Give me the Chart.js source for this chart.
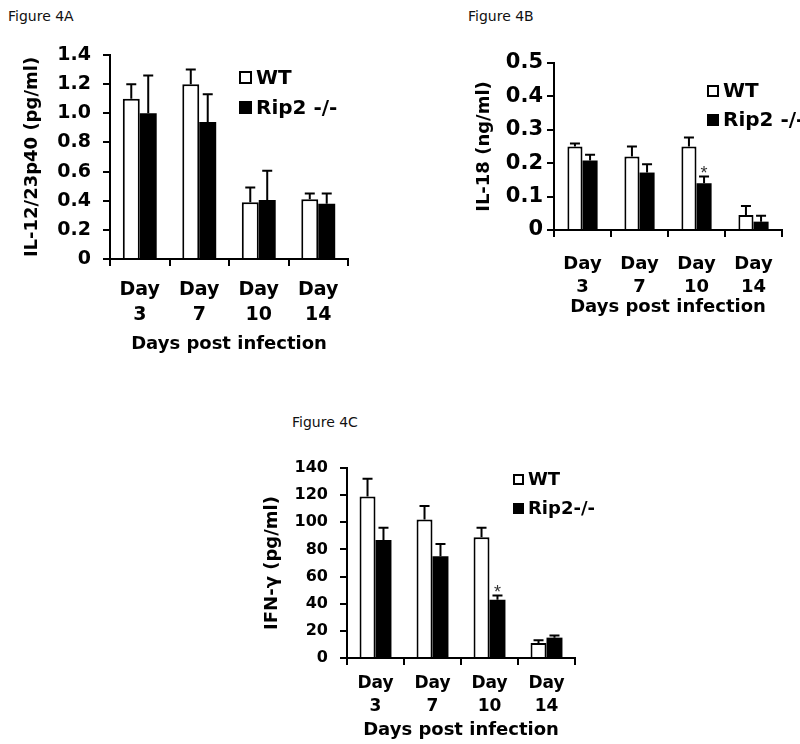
<!DOCTYPE html>
<html>
<head>
<meta charset="utf-8">
<script src="https://cdn.jsdelivr.net/npm/chart.js@4.4.0/dist/chart.umd.min.js"></script>
<style>
    body { margin: 0; background: #fff; }
    #page { position: relative; width: 800px; height: 744px; overflow: hidden; background: #fff; }
    .fig-label { position: absolute; font-family: "DejaVu Sans", sans-serif; font-size: 14px; color: #111; }
    canvas { position: absolute; }
</style>
</head>
<body>
<div id="page">
    <div class="fig-label" style="left:8px; top:8px;">Figure 4A</div>
    <div class="fig-label" style="left:468px; top:8px;">Figure 4B</div>
    <div class="fig-label" style="left:292px; top:414px;">Figure 4C</div>
    <canvas id="chartA" width="400" height="370" style="left:0; top:0;"></canvas>
    <canvas id="chartB" width="400" height="320" style="left:400px; top:0;"></canvas>
    <canvas id="chartC" width="370" height="344" style="left:230px; top:400px;"></canvas>
</div>
<script>
// ========================================
// Data
// ========================================
const days = [['Day', '3'], ['Day', '7'], ['Day', '10'], ['Day', '14']];
const seriesNames = ['WT', 'Rip2 -/-'];
const seriesNamesC = ['WT', 'Rip2-/-'];

// Figure 4A - IL-12/23p40 (pg/ml)
const il12Wt = [1.1, 1.2, 0.39, 0.41];
const il12WtErr = [0.1, 0.1, 0.1, 0.04];
const il12Rip = [1.0, 0.94, 0.405, 0.38];
const il12RipErr = [0.26, 0.19, 0.2, 0.07];
const il12Ticks = { min: 0, max: 1.4, step: 0.2 };

// Figure 4B - IL-18 (ng/ml)
const il18Wt = [0.25, 0.22, 0.25, 0.045];
const il18WtErr = [0.009, 0.03, 0.027, 0.027];
const il18Rip = [0.208, 0.172, 0.14, 0.025];
const il18RipErr = [0.017, 0.025, 0.02, 0.018];
const il18Stars = ['', '', '*', ''];
const il18Ticks = { min: 0, max: 0.5, step: 0.1 };

// Figure 4C - IFN-gamma (pg/ml)
const ifnWt = [119, 102, 89, 11];
const ifnWtErr = [13, 10, 7, 2];
const ifnRip = [87, 75, 43, 15];
const ifnRipErr = [9, 9, 3, 1.5];
const ifnStars = ['', '', '*', ''];
const ifnTicks = { min: 0, max: 140, step: 20 };

const FONT = '"DejaVu Sans", sans-serif';

// Upper error bars with a cap, plus significance stars
const errorBarPlugin = {
    id: 'errorBars',
    afterDatasetsDraw(chart) {
        const ctx = chart.ctx;
        const y = chart.scales.y;
        ctx.save();
        ctx.strokeStyle = '#000';
        ctx.lineWidth = 2;
        chart.data.datasets.forEach((ds, i) => {
            const meta = chart.getDatasetMeta(i);
            meta.data.forEach((bar, j) => {
                const top = y.getPixelForValue(ds.data[j] + ds.errors[j]);
                ctx.beginPath();
                ctx.moveTo(bar.x, bar.y);
                ctx.lineTo(bar.x, top);
                ctx.moveTo(bar.x - 5, top);
                ctx.lineTo(bar.x + 5, top);
                ctx.stroke();
                if (ds.stars && ds.stars[j]) {
                    ctx.fillStyle = '#333';
                    ctx.font = '18px "Liberation Sans", sans-serif';
                    ctx.textAlign = 'center';
                    ctx.textBaseline = 'alphabetic';
                    ctx.fillText(ds.stars[j], bar.x, top + 2);
                }
            });
        });
        ctx.restore();
    }
};

// Legend drawn inside the plot, like the original
const boxLegendPlugin = {
    id: 'boxLegend',
    afterDraw(chart, args, opts) {
        const ctx = chart.ctx;
        ctx.save();
        ctx.font = 'bold ' + opts.fontSize + 'px ' + FONT;
        ctx.textBaseline = 'middle';
        ctx.textAlign = 'left';
        chart.data.datasets.forEach((ds, i) => {
            const item = opts.items[i];
            ctx.fillStyle = ds.backgroundColor;
            ctx.fillRect(item.x, item.y, opts.box, opts.box);
            ctx.strokeStyle = '#000';
            ctx.lineWidth = 2;
            ctx.strokeRect(item.x + 1, item.y + 1, opts.box - 2, opts.box - 2);
            ctx.fillStyle = '#000';
            ctx.fillText(ds.label, item.x + opts.box + 4, item.y + opts.box / 2 + 1);
        });
        ctx.restore();
    }
};

function buildPanel(canvasId, cfg) {
    const axisGrid = {
        display: true,
        drawOnChartArea: false,
        drawTicks: true,
        tickLength: 7,
        color: '#000',
        lineWidth: 2
    };
    return new Chart(document.getElementById(canvasId), {
        type: 'bar',
        data: {
            labels: days,
            datasets: [
                {
                    label: cfg.names[0],
                    data: cfg.wt,
                    errors: cfg.wtErr,
                    backgroundColor: '#ffffff',
                    borderColor: '#000',
                    borderWidth: 2,
                    borderSkipped: 'bottom'
                },
                {
                    label: cfg.names[1],
                    data: cfg.rip,
                    errors: cfg.ripErr,
                    stars: cfg.stars,
                    backgroundColor: '#000000',
                    borderColor: '#000',
                    borderWidth: 0
                }
            ]
        },
        options: {
            responsive: false,
            animation: false,
            events: [],
            barPercentage: 1,
            categoryPercentage: cfg.groupPct,
            layout: { padding: cfg.padding },
            plugins: {
                legend: { display: false },
                tooltip: { enabled: false },
                boxLegend: cfg.legend
            },
            scales: {
                x: {
                    grid: axisGrid,
                    border: { color: '#000', width: 2 },
                    ticks: {
                        color: '#000',
                        padding: cfg.xTickPad,
                        maxRotation: 0,
                        autoSkip: false,
                        font: { family: FONT, size: cfg.xTickSize, weight: 'bold', lineHeight: cfg.xLineHeight }
                    },
                    title: {
                        display: true,
                        text: 'Days post infection',
                        color: '#000',
                        padding: { top: 0, bottom: cfg.xTitlePad },
                        font: { family: FONT, size: 18, weight: 'bold', lineHeight: 1.2 }
                    },
                    afterFit(scale) {
                        scale.height = cfg.xHeight;
                        scale.paddingLeft = 0;
                        scale.paddingRight = 0;
                    }
                },
                y: {
                    min: cfg.ticks.min,
                    max: cfg.ticks.max,
                    grid: axisGrid,
                    border: { color: '#000', width: 2 },
                    ticks: {
                        stepSize: cfg.ticks.step,
                        color: '#000',
                        padding: cfg.yTickPad,
                        font: { family: FONT, size: cfg.yTickSize, weight: 'bold' }
                    },
                    title: {
                        display: true,
                        text: cfg.yTitle,
                        color: '#000',
                        padding: { top: cfg.yTitlePad, bottom: 0 },
                        font: { family: FONT, size: 18, weight: 'bold', lineHeight: 1.2 }
                    },
                    afterFit(scale) {
                        scale.width = cfg.yWidth;
                        scale.paddingTop = 0;
                        scale.paddingBottom = 0;
                    }
                }
            }
        },
        plugins: [errorBarPlugin, boxLegendPlugin]
    });
}

buildPanel('chartA', {
    names: seriesNames,
    wt: il12Wt, wtErr: il12WtErr, rip: il12Rip, ripErr: il12RipErr, stars: null,
    ticks: il12Ticks,
    yTitle: 'IL-12/23p40 (pg/ml)',
    groupPct: 0.57,
    padding: { left: 0, top: 55, right: 52, bottom: 0 },
    yWidth: 110, xHeight: 111,
    yTickPad: 12, yTickSize: 19, yTitlePad: 22,
    xTickPad: 12, xTickSize: 19, xLineHeight: 1.3, xTitlePad: 15,
    legend: { fontSize: 20, box: 13, items: [{ x: 239, y: 71 }, { x: 239, y: 101 }] }
});

buildPanel('chartB', {
    names: seriesNames,
    wt: il18Wt, wtErr: il18WtErr, rip: il18Rip, ripErr: il18RipErr, stars: il18Stars,
    ticks: il18Ticks,
    yTitle: 'IL-18 (ng/ml)',
    groupPct: 0.53,
    padding: { left: 0, top: 63, right: 18, bottom: 0 },
    yWidth: 154, xHeight: 90,
    yTickPad: 4, yTickSize: 21, yTitlePad: 74,
    xTickPad: 16, xTickSize: 18, xLineHeight: 1.28, xTitlePad: 2,
    legend: { fontSize: 20, box: 12, items: [{ x: 307, y: 85 }, { x: 307, y: 114 }] }
});

buildPanel('chartC', {
    names: seriesNamesC,
    wt: ifnWt, wtErr: ifnWtErr, rip: ifnRip, ripErr: ifnRipErr, stars: ifnStars,
    ticks: ifnTicks,
    yTitle: 'IFN-γ (pg/ml)',
    groupPct: 0.56,
    padding: { left: 0, top: 68, right: 25, bottom: 0 },
    yWidth: 117, xHeight: 86,
    yTickPad: 12, yTickSize: 16, yTitlePad: 32,
    xTickPad: 8, xTickSize: 17, xLineHeight: 1.3, xTitlePad: 3,
    legend: { fontSize: 18, box: 11, items: [{ x: 283, y: 74 }, { x: 283, y: 103 }] }
});
</script>
</body>
</html>
